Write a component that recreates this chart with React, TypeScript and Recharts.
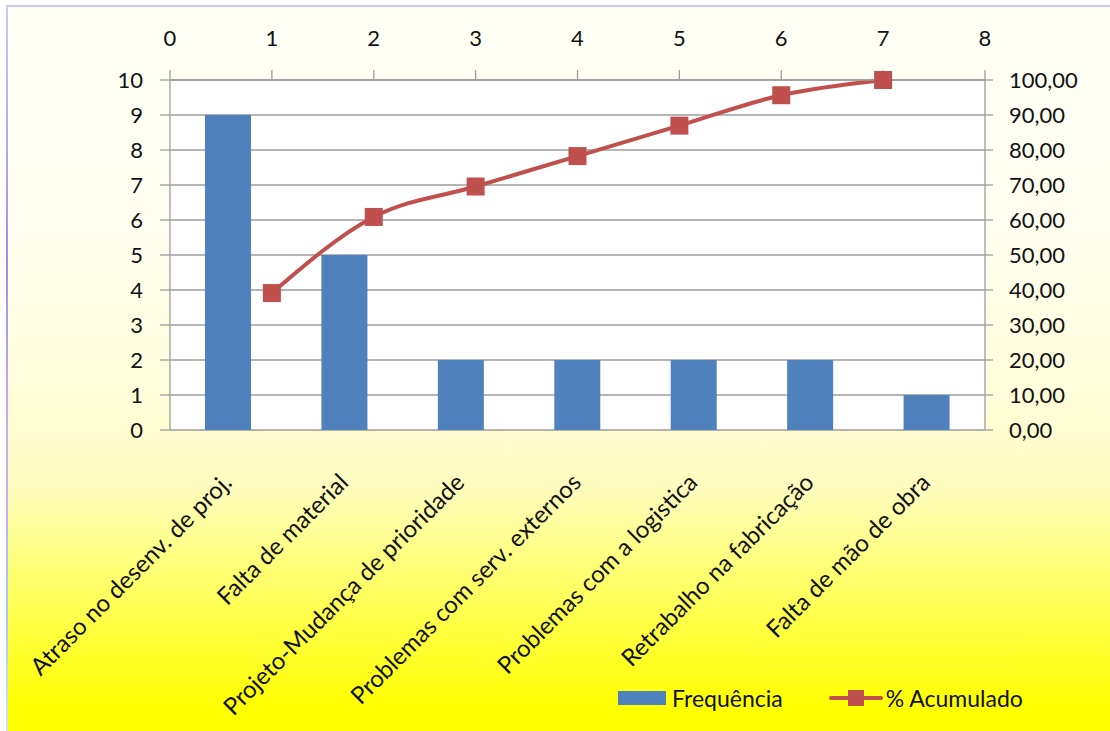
import React from "react";
import { ComposedChart, Bar, Line, XAxis, YAxis, CartesianGrid, Legend } from "recharts";

// Pareto data: occurrences per cause and running share of the total
const categories = [
  "Atraso no desenv. de proj.",
  "Falta de material",
  "Projeto-Mudança de prioridade",
  "Problemas com serv. externos",
  "Problemas com a logistica",
  "Retrabalho na fabricação",
  "Falta de mão de obra",
];
const frequencies = [9, 5, 2, 2, 2, 2, 1];
const cumulativePct = [39.13, 60.87, 69.57, 78.26, 86.96, 95.65, 100.0];
const positions = [1, 2, 3, 4, 5, 6, 7];

const topTicks = [0, 1, 2, 3, 4, 5, 6, 7, 8];
const boundaryTicks = [0, 1, 2, 3, 4, 5, 6, 7];
const countTicks = [0, 1, 2, 3, 4, 5, 6, 7, 8, 9, 10];
const pctTicks = [0, 10, 20, 30, 40, 50, 60, 70, 80, 90, 100];

const data = categories.map((name, i) => ({
  name,
  freq: frequencies[i],
  pos: positions[i],
  cum: cumulativePct[i],
}));

const FONT = "Lato, 'Open Sans', sans-serif";
const BLUE = "#4f81bd";
const RED = "#c0504d";
const GRID = "#9c9c9c";
const TEXT = "#111111";

const tickStyle = { fontFamily: FONT, fontSize: 22, fill: TEXT };

function CategoryTick(props: any) {
  const { x, y, payload } = props;
  const ax = x + 5;
  const ay = y + 54;
  return (
    <text
      x={ax}
      y={ay}
      transform={`rotate(-45, ${ax}, ${ay})`}
      textAnchor="end"
      fontFamily={FONT}
      fontSize={24}
      fill={TEXT}
    >
      {payload.value}
    </text>
  );
}

function SquareDot(props: any) {
  const { cx, cy, index } = props;
  return <rect key={`sq-${index}`} x={cx - 9} y={cy - 9} width={18} height={18} fill={RED} />;
}

function LegendContent(props: any) {
  // bars listed before the cumulative line
  const items = [...(props.payload || [])].sort(
    (a: any, b: any) => (a.type === "rect" ? 0 : 1) - (b.type === "rect" ? 0 : 1)
  );
  return (
    <div style={{ display: "flex", alignItems: "center", fontFamily: FONT, fontSize: 23, color: TEXT }}>
      {items.map((item: any, i: number) => (
        <div key={i} style={{ display: "flex", alignItems: "center", marginRight: 46 }}>
          {item.type === "rect" ? (
            <svg width={48} height={14} style={{ marginRight: 6 }}>
              <rect x={0} y={0} width={48} height={14} fill={BLUE} />
            </svg>
          ) : (
            <svg width={54} height={16} style={{ marginRight: 3 }}>
              <line x1={2} y1={8} x2={52} y2={8} stroke={RED} strokeWidth={4} strokeLinecap="round" />
              <rect x={19} y={0} width={16} height={16} fill={RED} />
            </svg>
          )}
          <span>{item.value}</span>
        </div>
      ))}
    </div>
  );
}

export default function App() {
  return (
    <div style={{ position: "absolute", left: 0, top: 0, width: 1110, height: 731, background: "#fff", overflow: "hidden" }}>
      <div
        style={{
          position: "absolute",
          left: 8,
          top: 7,
          width: 1102,
          height: 724,
          background:
            "linear-gradient(to bottom, #fffff6 0%, #fffef0 30%, #fffdd8 55%, #fffcc0 66%, #ffff80 76%, #ffff40 86%, #ffff00 97%)",
        }}
      />
      <div style={{ position: "absolute", left: 6, top: 5, width: 1104, height: 2, background: "#c9c9f7" }} />
      <div
        style={{
          position: "absolute",
          left: 6,
          top: 5,
          width: 2,
          height: 726,
          background: "linear-gradient(to bottom, #c9c9f7 0%, #a58af0 35%, #c8a8f6 55%, #a6c8fb 85%, #d0e4ff 100%)",
        }}
      />
      <div style={{ position: "absolute", left: 0, top: 0 }}>
        <ComposedChart width={1110} height={731} data={data} margin={{ top: 0, right: 0, bottom: 0, left: 0 }}>
          <CartesianGrid yAxisId="left" xAxisId="cat" vertical={false} stroke={GRID} strokeWidth={1.3} fill="#ffffff" />
          <XAxis
            xAxisId="bounds"
            type="number"
            domain={[0, 7]}
            allowDataOverflow
            ticks={boundaryTicks}
            orientation="bottom"
            height={0}
            tickSize={7}
            tick={false}
            stroke={GRID}
            strokeWidth={1.3}
          />
          <XAxis
            xAxisId="cat"
            dataKey="name"
            type="category"
            orientation="bottom"
            height={301}
            axisLine={false}
            tickLine={false}
            tickSize={0}
            tickMargin={0}
            interval={0}
            tick={<CategoryTick />}
          />
          <XAxis
            xAxisId="num"
            dataKey="pos"
            type="number"
            domain={[0, 8]}
            ticks={topTicks}
            orientation="top"
            height={80}
            tickSize={10}
            tickMargin={24}
            tick={tickStyle}
            stroke={GRID}
            strokeWidth={1.3}
          />
          <YAxis
            yAxisId="left"
            domain={[0, 10]}
            ticks={countTicks}
            width={170}
            tickSize={10}
            tickMargin={17}
            tick={tickStyle}
            stroke={GRID}
            strokeWidth={1.3}
          />
          <YAxis
            yAxisId="right"
            orientation="right"
            domain={[0, 100]}
            ticks={pctTicks}
            width={125}
            tickSize={8}
            tickMargin={16}
            tick={tickStyle}
            tickFormatter={(v: number) => v.toFixed(2).replace(".", ",")}
            stroke={GRID}
            strokeWidth={1.3}
          />
          <Bar
            xAxisId="cat"
            yAxisId="left"
            dataKey="freq"
            name="Frequência"
            fill={BLUE}
            barSize={46}
            legendType="rect"
            isAnimationActive={false}
          />
          <Line
            xAxisId="num"
            yAxisId="right"
            dataKey="cum"
            name="% Acumulado"
            type="monotone"
            stroke={RED}
            strokeWidth={4}
            dot={SquareDot}
            activeDot={false}
            legendType="line"
            isAnimationActive={false}
          />
          <Legend
            layout="horizontal"
            verticalAlign="middle"
            align="center"
            content={<LegendContent />}
            wrapperStyle={{ left: 618, top: 684, width: 480, height: 30 }}
          />
        </ComposedChart>
      </div>
    </div>
  );
}
